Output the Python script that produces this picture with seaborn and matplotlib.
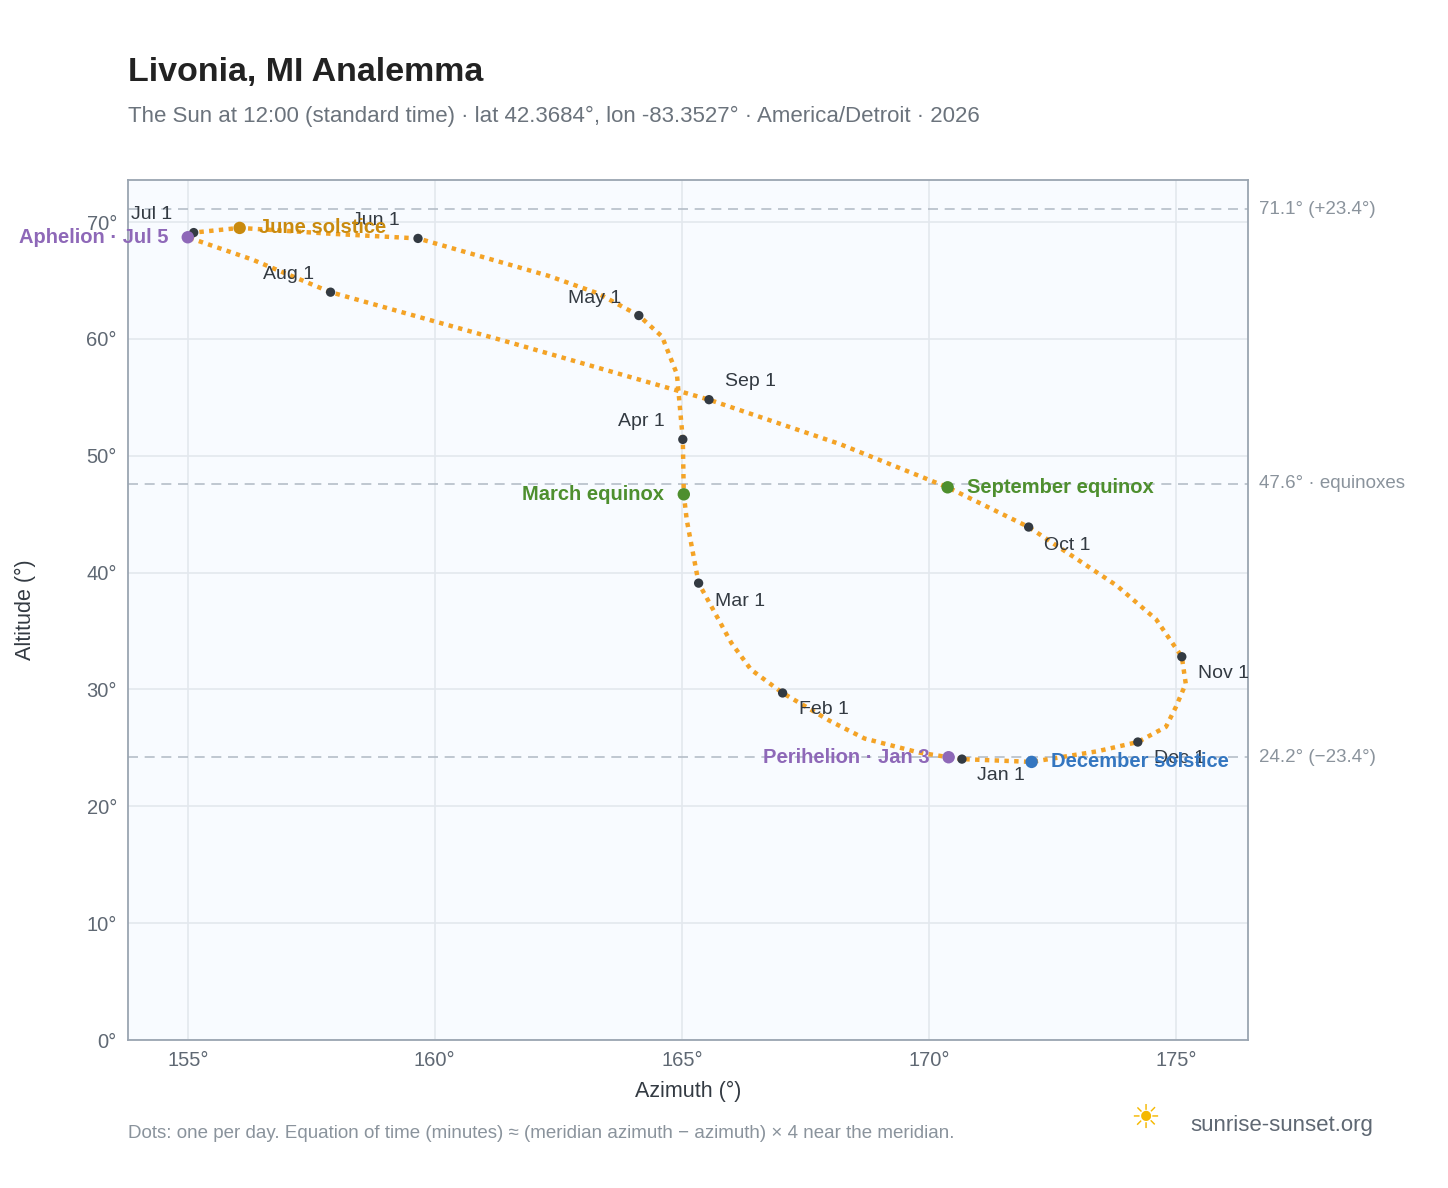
import matplotlib.pyplot as plt
import seaborn as sns

# analemma track (azimuth, altitude), roughly weekly
track_az = [170.67, 170.40, 169.8, 168.7, 168.0, 167.04, 166.4, 166.0, 165.34, 165.1, 165.04,
            165.02, 164.9, 164.6, 164.13, 163.3, 162.3, 159.66, 157.9, 156.05, 155.12, 155.0, 156.3, 157.89,
            161.6, 165.55, 168.2, 170.38, 172.02, 173.8, 174.6, 175.12, 175.2, 175.0, 174.8,
            174.23, 173.4, 172.08, 170.67]
track_alt = [24.04, 24.2, 24.6, 25.8, 27.3, 29.7, 31.7, 34.0, 39.1, 44.5, 46.7,
             51.4, 57.0, 60.2, 62.0, 63.9, 65.4, 68.6, 69.0, 69.5, 69.1, 68.7, 66.8, 64.0,
             59.6, 54.8, 51.0, 47.3, 43.9, 38.9, 36.0, 32.8, 30.5, 28.5, 26.8,
             25.5, 24.7, 23.8, 24.04]

months = ["Jan 1", "Feb 1", "Mar 1", "Apr 1", "May 1", "Jun 1",
          "Jul 1", "Aug 1", "Sep 1", "Oct 1", "Nov 1", "Dec 1"]
month_az = [170.67, 167.04, 165.34, 165.02, 164.13, 159.66, 155.12, 157.89, 165.55, 172.02, 175.12, 174.23]
month_alt = [24.04, 29.7, 39.1, 51.4, 62.0, 68.6, 69.1, 64.0, 54.8, 43.9, 32.8, 25.5]
month_off = [(28, -12), (30, -12), (30, -13), (-30, 13), (-32, 12), (-30, 13),
             (-30, 13), (-30, 13), (30, 13), (28, -13), (30, -12), (30, -12)]

events = ["Perihelion · Jan 3", "March equinox", "June solstice", "Aphelion · Jul 5",
          "September equinox", "December solstice"]
event_az = [170.40, 165.04, 156.05, 155.0, 170.38, 172.08]
event_alt = [24.2, 46.7, 69.5, 68.7, 47.3, 23.8]
event_col = ["#8e68b8", "#4e8f2e", "#c98a0e", "#8e68b8", "#4e8f2e", "#3476c0"]
event_left = [True, True, False, True, False, False]

ref_lines = [71.1, 47.6, 24.2]
ref_labels = ["71.1° (+23.4°)", "47.6° · equinoxes", "24.2° (−23.4°)"]

sns.set_style("white")
plt.rcParams['font.family'] = ['Liberation Sans', 'DejaVu Sans']
fig = plt.figure(figsize=(14.48, 11.88), dpi=100)
ax = fig.add_axes([128 / 1448, 1 - 1040 / 1188, 1120 / 1448, 860 / 1188])
ax.set_facecolor("#f8fbff")
for s in ax.spines.values():
    s.set_color("#9aa5b1")
    s.set_linewidth(1.3)
ax.grid(True, color="#e3e8ee", linewidth=1.2)
ax.set_axisbelow(True)

for y, lab in zip(ref_lines, ref_labels):
    ax.axhline(y, color="#b5bec8", linestyle=(0, (6, 4)), linewidth=1.2, zorder=1)
    ax.text(1.01, y, lab, transform=ax.get_yaxis_transform(), va="center", ha="left",
            fontsize=13.5, color="#8a939c")

ax.plot(track_az, track_alt, color="#f4a326", linestyle=(0, (1, 1.2)), linewidth=3.2, zorder=2)
sns.scatterplot(x=month_az, y=month_alt, color="#333a42", s=45, edgecolor="none", zorder=4, ax=ax)
for lab, x, y, off in zip(months, month_az, month_alt, month_off):
    ax.annotate(lab, (x, y), xytext=off, textcoords="offset points", ha="center", va="center",
                fontsize=14, color="#333a42", zorder=5)

sns.scatterplot(x=event_az, y=event_alt, c=event_col, s=80, edgecolor="none", zorder=5, ax=ax)
for lab, x, y, c, left in zip(events, event_az, event_alt, event_col, event_left):
    ax.annotate(lab, (x, y), xytext=(-14 if left else 14, 0), textcoords="offset points",
                ha="right" if left else "left", va="center", fontsize=14.5,
                fontweight="bold", color=c, zorder=6, annotation_clip=False)

ax.set_xlim(153.79, 176.46)
ax.set_ylim(0, 73.6)
ax.set_xticks([155, 160, 165, 170, 175])
ax.set_xticklabels(["155°", "160°", "165°", "170°", "175°"])
ax.set_yticks(range(0, 80, 10))
ax.set_yticklabels([f"{v}°" for v in range(0, 80, 10)])
ax.tick_params(labelsize=14.5, colors="#5f6873", length=0, pad=8)
ax.set_xlabel("Azimuth (°)", fontsize=15.5, color="#333a42", labelpad=8)
ax.set_ylabel("Altitude (°)", fontsize=15.5, color="#333a42", labelpad=36)

fig.text(128 / 1448, 1 - 72 / 1188, "Livonia, MI Analemma", fontsize=24.5, fontweight="bold",
         color="#222", va="center")
fig.text(128 / 1448, 1 - 116 / 1188,
         "The Sun at 12:00 (standard time) · lat 42.3684°, lon -83.3527° · America/Detroit · 2026",
         fontsize=16, color="#6b737c", va="center")
fig.text(128 / 1448, 1 - 1134 / 1188,
         "Dots: one per day. Equation of time (minutes) ≈ (meridian azimuth − azimuth) × 4 near the meridian.",
         fontsize=13.5, color="#8a939c", va="center")
fig.text(1190 / 1448, 1 - 1125 / 1188, "sunrise-sunset.org", fontsize=16, color="#5f6873", va="center")
fig.text(1145 / 1448, 1 - 1120 / 1188, "☀", fontsize=24, color="#f5b800", va="center", ha="center")

fig.savefig("out.png", dpi=100, facecolor="white")
